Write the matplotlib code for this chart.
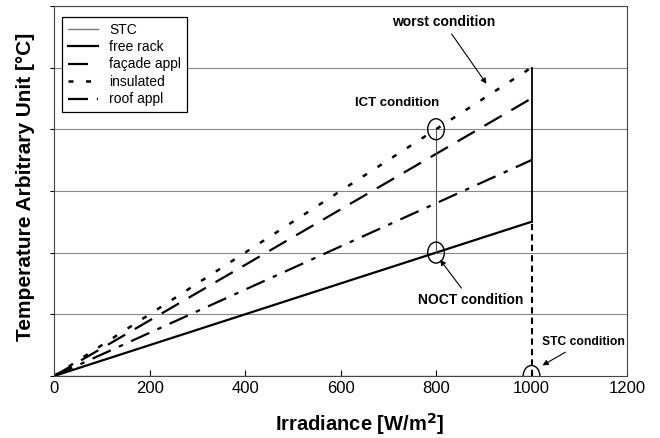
import matplotlib.pyplot as plt
from matplotlib.patches import Ellipse

plt.rcParams['font.family'] = ['Liberation Sans', 'DejaVu Sans']

# irradiance range and end temperatures (arbitrary units) at 1000 W/m2
irr = [0, 1000]
free_rack = [0, 2.5]
facade = [0, 4.5]
insulated = [0, 5.0]
roof = [0, 3.5]

stc_x = 1000
ict = (800, 4.0)
noct = (800, 2.0)
stc = (1000, 0.0)

x_ticks = [0, 200, 400, 600, 800, 1000, 1200]
y_grid = [1, 2, 3, 4, 5, 6]

fig = plt.figure(figsize=(6.6, 4.38), dpi=100)
ax = fig.add_axes([0.082, 0.1416, 0.868, 0.845])

for y in y_grid:
    ax.axhline(y, color='#888888', lw=0.8, zorder=1)

ax.plot(irr, [0, 0], color='#777777', lw=1.0, label='STC')
ax.plot(irr, free_rack, color='black', lw=1.6, label='free rack')
ax.plot(irr, facade, color='black', lw=1.6, dashes=(9, 5), label=u'façade appl')
ax.plot(irr, insulated, color='black', lw=1.8, dashes=(2, 5), label='insulated')
ax.plot(irr, roof, color='black', lw=1.6, dashes=(9, 4, 2, 4), label='roof appl')

# STC vertical
ax.plot([stc_x, stc_x], [free_rack[1], insulated[1]], color='black', lw=1.3)
ax.plot([stc_x, stc_x], [0, free_rack[1]], color='black', lw=1.5, dashes=(3, 2))

# ICT - NOCT link
ax.plot([ict[0], noct[0]], [ict[1], noct[1]], color='#555555', lw=0.8)
for c in [ict, noct, stc]:
    ax.add_patch(Ellipse(c, 35, 0.34, fill=False, ec='black', lw=1.0, zorder=5))

akw = dict(arrowstyle='-|>', color='black', lw=0.8, mutation_scale=8)
ax.annotate('worst condition', xy=(909, 4.70), xytext=(815, 5.74),
            ha='center', va='center', fontsize=10, fontweight='bold', arrowprops=akw)
ax.text(719, 4.42, 'ICT condition', ha='center', va='center', fontsize=9.5, fontweight='bold')
ax.annotate('NOCT condition', xy=(805, 1.92), xytext=(872, 1.23),
            ha='center', va='center', fontsize=10, fontweight='bold', arrowprops=akw)
ax.annotate('STC condition', xy=(1018, 0.15), xytext=(1108, 0.55),
            ha='center', va='center', fontsize=8.7, fontweight='bold', arrowprops=akw)

ax.set_xlim(0, 1200)
ax.set_ylim(0, 6)
ax.set_xticks(x_ticks)
ax.set_yticks([0] + y_grid)
ax.set_yticklabels([])
ax.tick_params(axis='x', labelsize=12, direction='in', length=4)
ax.tick_params(axis='y', direction='out', length=3)
for s in ax.spines.values():
    s.set_color('#444444')

ax.set_xlabel('Irradiance [W/m$^\\mathbf{2}$]', fontsize=14.5, fontweight='bold')
ax.xaxis.set_label_coords(0.534, -0.094)
ax.set_ylabel(u'Temperature Arbitrary Unit [°C]', fontsize=15, fontweight='bold')
ax.yaxis.set_label_coords(-0.034, 0.51)

leg = ax.legend(loc='upper left', bbox_to_anchor=(0.014, 0.97), borderaxespad=0,
                fontsize=10, handlelength=2.2, labelspacing=0.25, fancybox=False,
                edgecolor='black', framealpha=1, borderpad=0.4)
leg.get_frame().set_linewidth(0.9)

fig.savefig('out.png', dpi=100)
